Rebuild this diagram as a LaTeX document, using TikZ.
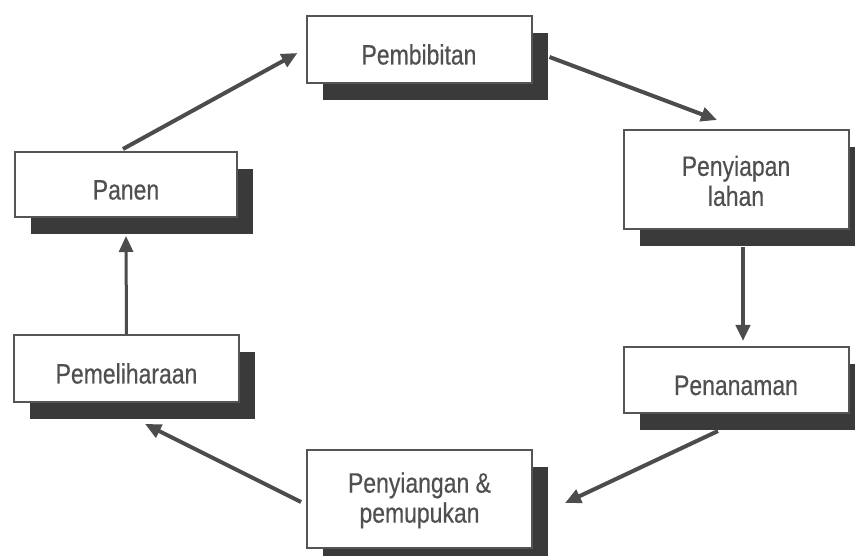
\documentclass[tikz,border=0pt]{standalone}
\usepackage{fontspec}
\newfontfamily\boxfont{Liberation Sans}[FakeStretch=0.82,FakeBold=0.4]
\usetikzlibrary{arrows.meta,shadows,calc}
\definecolor{framegray}{HTML}{555555}
\definecolor{shadowgray}{HTML}{3A3A3A}
\definecolor{textgray}{HTML}{505050}
\definecolor{linegray}{HTML}{4C4C4C}
\tikzset{
  stagebox/.style={draw=framegray, line width=2pt, fill=white, minimum width=225pt,
    inner sep=0pt, align=center, text=textgray,
    font=\boxfont\fontsize{28}{30}\selectfont,
    general shadow={fill=shadowgray, draw=none, shadow xshift=16pt, shadow yshift=-17pt}},
  oneline/.style={text height=30pt, text depth=0pt},
  twoline/.style={yshift=3pt},
  flowarrow/.style={draw=linegray, line width=4pt, -{Triangle[length=16pt,width=14pt]}},
}
\begin{document}
\begin{tikzpicture}[x=1pt,y=-1pt]
\useasboundingbox[fill=white] (0,0) rectangle (855,556);
\node[stagebox, oneline, minimum height=67pt] (pembibitan) at (419,49.5) {Pembibitan};
\node[stagebox, minimum height=99pt] (penyiapan) at (736,179.5) {\rule{0pt}{23pt}Penyiapan\\lahan};
\node[stagebox, oneline, minimum height=66pt] (penanaman) at (736,380) {Penanaman};
\node[stagebox, minimum height=98pt] (penyiangan) at (419.5,499) {\rule{0pt}{23pt}Penyiangan \&\\pemupukan};
\node[stagebox, oneline, minimum height=67pt] (pemeliharaan) at (126.5,368.5) {Pemeliharaan};
\node[stagebox, oneline, minimum height=65pt, minimum width=222pt] (panen) at (126,184.5) {Panen};

\draw[flowarrow] ($(panen.north)+(-3,-2)$) -- ($(pembibitan.west)+(-8,3.5)$);
\draw[flowarrow] ($(pembibitan.east)+(17,7.5)$) -- ($(penyiapan.north)+(-19,-9)$);
\draw[flowarrow] ($(penyiapan.south)+(7,17)$) -- ($(penanaman.north)+(7,-5)$);
\draw[flowarrow] ($(penanaman.south)+(-18,17)$) -- ($(penyiangan.east)+(32,4)$);
\draw[flowarrow] ($(penyiangan.west)+(-5,3)$) -- ($(pemeliharaan.south)+(18.5,21)$);
\draw[flowarrow, line width=3pt] (pemeliharaan.north) -- ($(panen.south)+(0,18)$);
\end{tikzpicture}
\end{document}
